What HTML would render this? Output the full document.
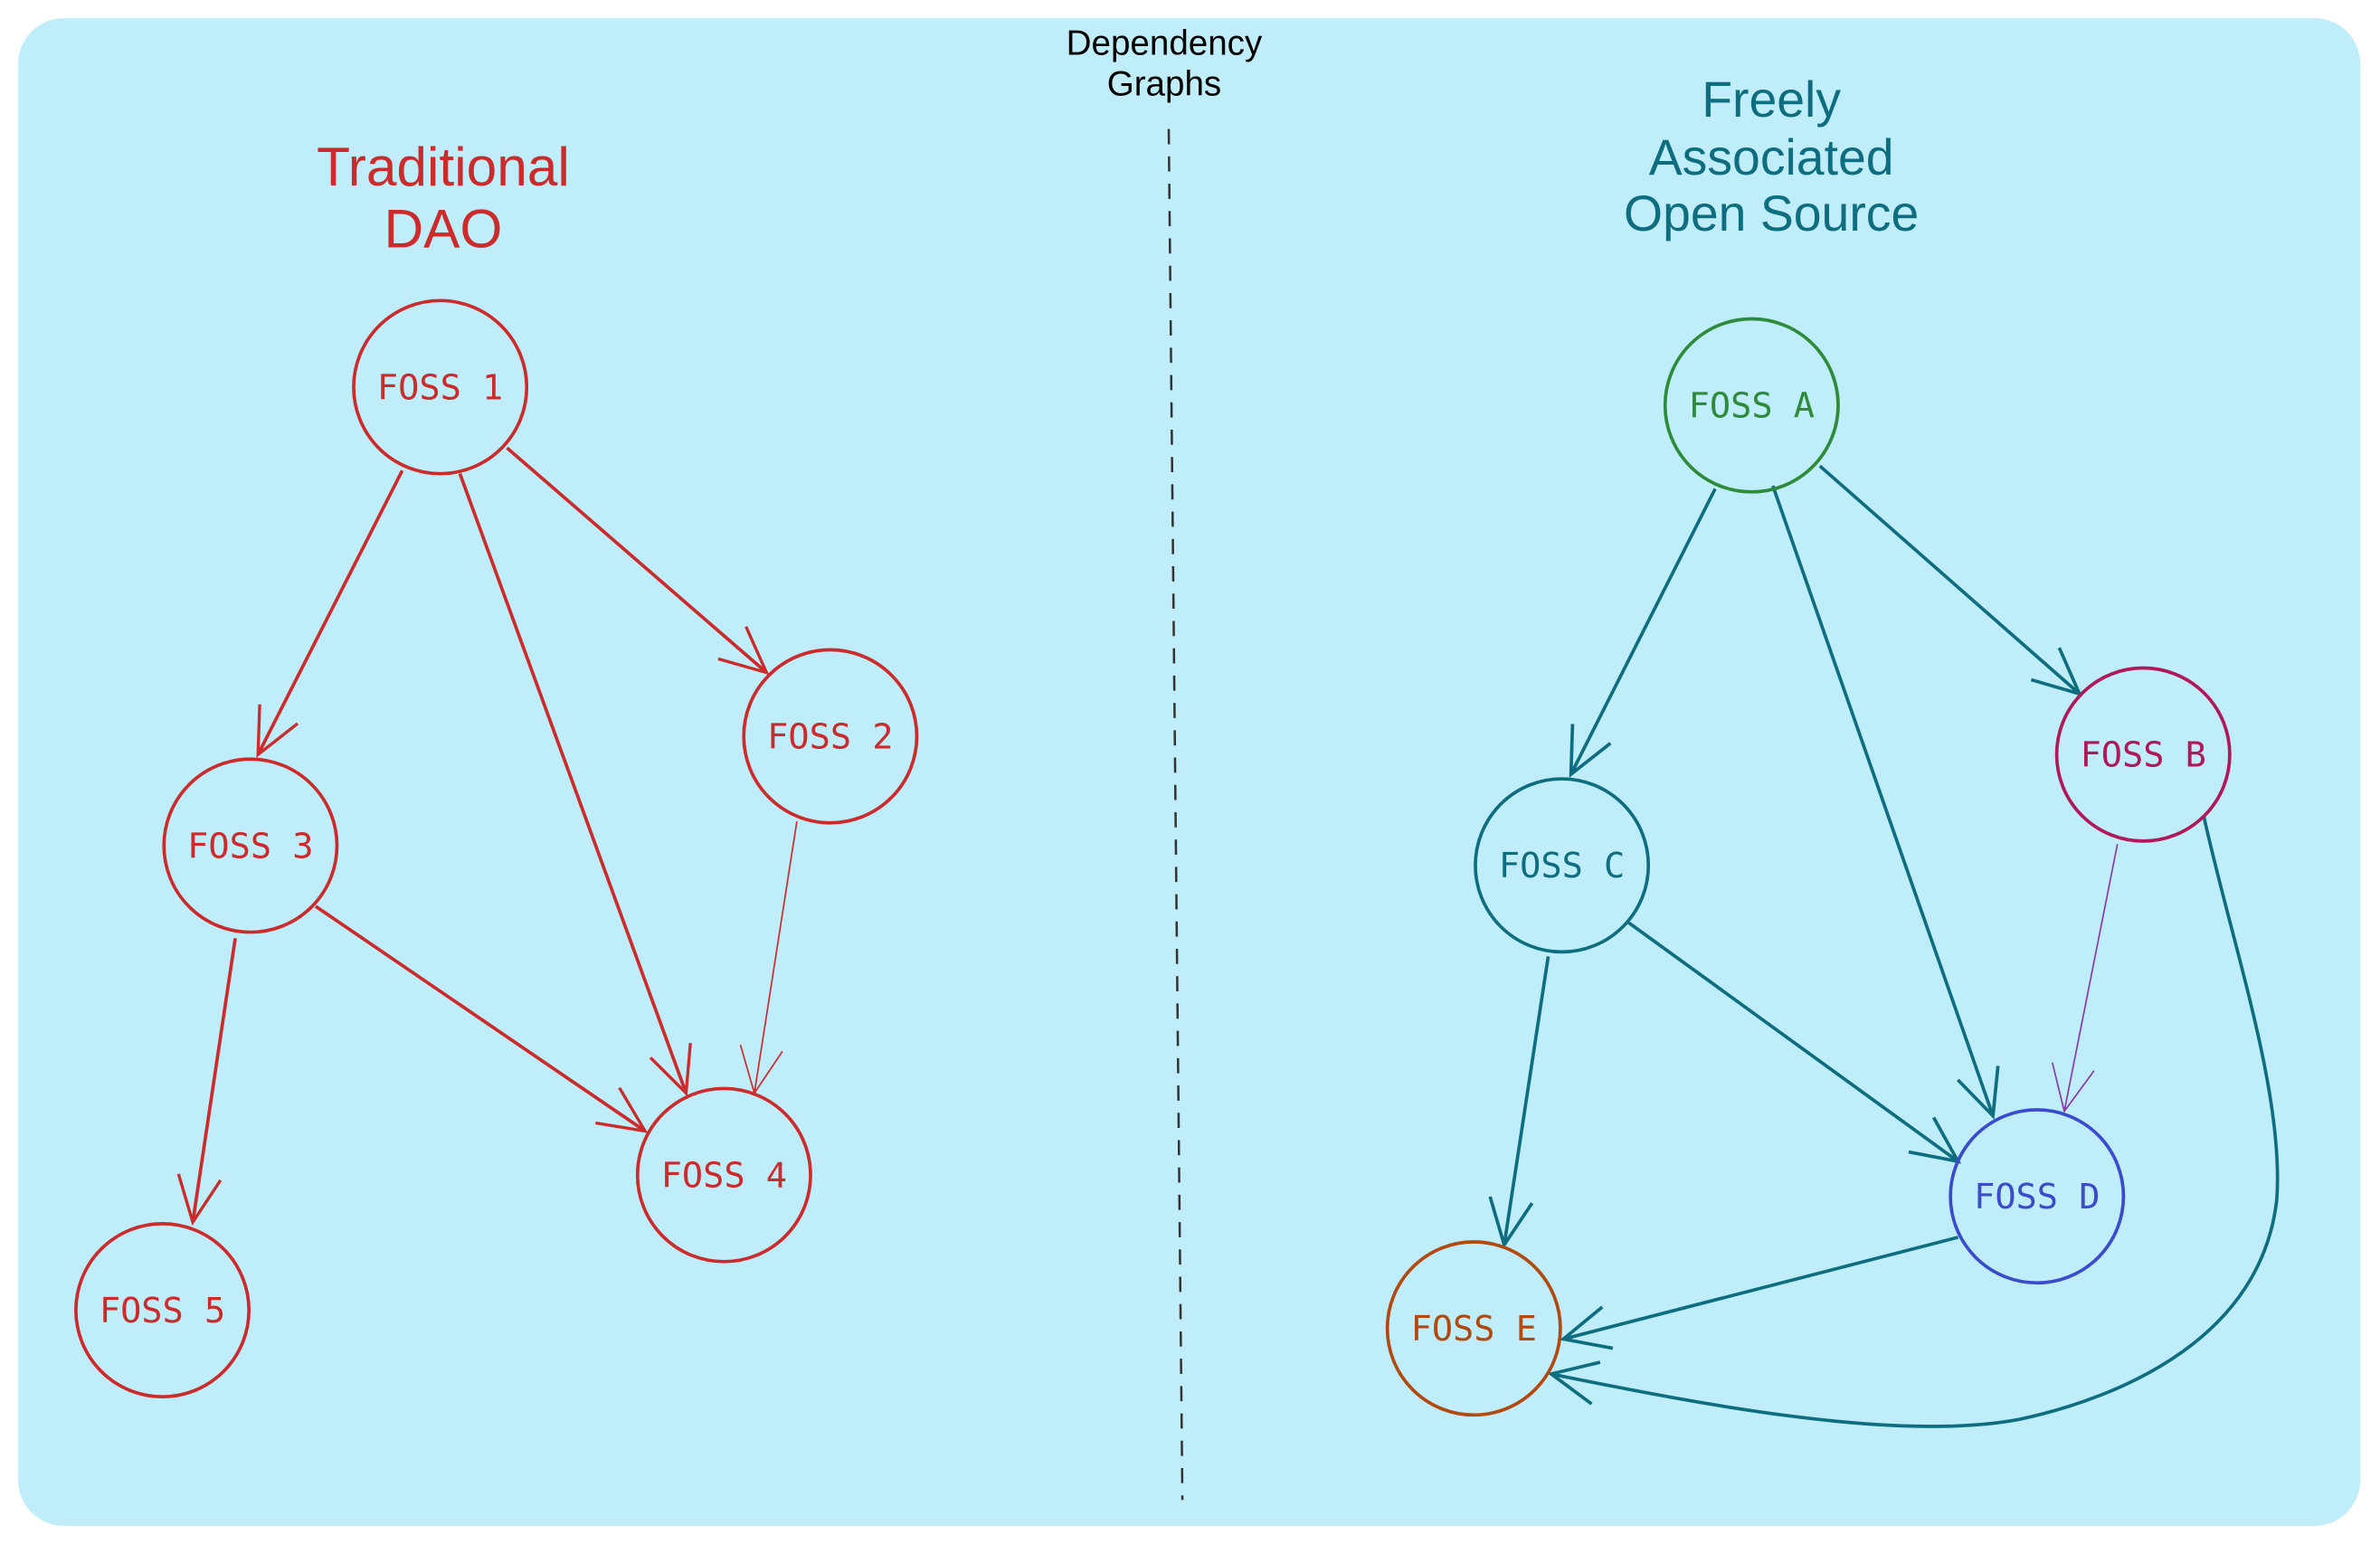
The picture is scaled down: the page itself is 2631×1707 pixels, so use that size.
<!DOCTYPE html>
<html><head><meta charset="utf-8"><style>html,body{margin:0;padding:0;background:#fff}svg{display:block}</style></head>
<body>
<svg width="2631" height="1707" viewBox="0 0 1568 1017" preserveAspectRatio="none" xmlns="http://www.w3.org/2000/svg">
<defs>
<marker id="ar" markerUnits="userSpaceOnUse" markerWidth="50" markerHeight="50" refX="38" refY="25" orient="auto"><path d="M8,11 L38,25 L8,39" fill="none" stroke="#cc2b2b" stroke-width="2"/></marker>
<marker id="at" markerUnits="userSpaceOnUse" markerWidth="50" markerHeight="50" refX="38" refY="25" orient="auto"><path d="M8,11 L38,25 L8,39" fill="none" stroke="#0e6d7e" stroke-width="2.2"/></marker>
<marker id="ap" markerUnits="userSpaceOnUse" markerWidth="50" markerHeight="50" refX="38" refY="25" orient="auto"><path d="M8,11 L38,25 L8,39" fill="none" stroke="#8a3aa8" stroke-width="1"/></marker>
<marker id="ar2" markerUnits="userSpaceOnUse" markerWidth="50" markerHeight="50" refX="38" refY="25" orient="auto"><path d="M8,11 L38,25 L8,39" fill="none" stroke="#cc2b2b" stroke-width="1"/></marker>
</defs>
<rect x="12" y="12" width="1543" height="993" rx="30" fill="#bfedfa"/>
<line x1="770" y1="85" x2="779" y2="988" stroke="#333" stroke-width="1.5" stroke-dasharray="10,8"/>
<g font-family="Liberation Sans, sans-serif" text-anchor="middle">
<text x="767" y="36" font-size="23" fill="#000">Dependency</text>
<text x="767" y="63" font-size="23" fill="#000">Graphs</text>
<text x="292" y="122" font-size="36" fill="#cc2b2b">Traditional</text>
<text x="292" y="163" font-size="36" fill="#cc2b2b">DAO</text>
<text x="1167" y="77" font-size="33" fill="#0e6d7e">Freely</text>
<text x="1167" y="115" font-size="33" fill="#0e6d7e">Associated</text>
<text x="1167" y="152" font-size="33" fill="#0e6d7e">Open Source</text>
</g>
<g fill="none" stroke-width="2.2">
<line x1="265" y1="310" x2="170" y2="497" stroke="#cc2b2b" marker-end="url(#ar)"/>
<line x1="303" y1="312" x2="452" y2="720" stroke="#cc2b2b" marker-end="url(#ar)"/>
<line x1="334" y1="295" x2="505" y2="443" stroke="#cc2b2b" marker-end="url(#ar)"/>
<line x1="525" y1="541" x2="497" y2="720" stroke="#cc2b2b" stroke-width="1" marker-end="url(#ar2)"/>
<line x1="208" y1="597" x2="425" y2="745" stroke="#cc2b2b" marker-end="url(#ar)"/>
<line x1="155" y1="618" x2="127" y2="805" stroke="#cc2b2b" marker-end="url(#ar)"/>
<line x1="1130" y1="322" x2="1035" y2="510" stroke="#0e6d7e" marker-end="url(#at)"/>
<line x1="1168" y1="320" x2="1313" y2="735" stroke="#0e6d7e" marker-end="url(#at)"/>
<line x1="1199" y1="307" x2="1370" y2="457" stroke="#0e6d7e" marker-end="url(#at)"/>
<line x1="1395" y1="556" x2="1360" y2="732" stroke="#8a3aa8" stroke-width="1" marker-end="url(#ap)"/>
<path d="M1452,538 C1470,620 1505,720 1500,790 C1490,880 1400,920 1330,935 C1250,950 1120,925 1022,905" stroke="#0e6d7e" marker-end="url(#at)"/>
<line x1="1020" y1="630" x2="991" y2="820" stroke="#0e6d7e" marker-end="url(#at)"/>
<line x1="1072" y1="607" x2="1290" y2="765" stroke="#0e6d7e" marker-end="url(#at)"/>
<line x1="1290" y1="815" x2="1030" y2="882" stroke="#0e6d7e" marker-end="url(#at)"/>
</g>
<g fill="none" stroke-width="2.2">
<circle cx="290" cy="255" r="57" stroke="#cc2b2b"/>
<circle cx="547" cy="485" r="57" stroke="#cc2b2b"/>
<circle cx="165" cy="557" r="57" stroke="#cc2b2b"/>
<circle cx="477" cy="774" r="57" stroke="#cc2b2b"/>
<circle cx="107" cy="863" r="57" stroke="#cc2b2b"/>
<circle cx="1154" cy="267" r="57" stroke="#2e8b3a"/>
<circle cx="1412" cy="497" r="57" stroke="#b0185a"/>
<circle cx="1029" cy="570" r="57" stroke="#0e6d7e"/>
<circle cx="1342" cy="788" r="57" stroke="#3a4ccc"/>
<circle cx="971" cy="875" r="57" stroke="#b04a10"/>
</g>
<g font-family="DejaVu Sans Mono, Liberation Mono, monospace" font-size="23" text-anchor="middle">
<text x="290" y="263" fill="#cc2b2b">FOSS 1</text>
<text x="547" y="493" fill="#cc2b2b">FOSS 2</text>
<text x="165" y="565" fill="#cc2b2b">FOSS 3</text>
<text x="477" y="782" fill="#cc2b2b">FOSS 4</text>
<text x="107" y="871" fill="#cc2b2b">FOSS 5</text>
<text x="1154" y="275" fill="#2e8b3a">FOSS A</text>
<text x="1412" y="505" fill="#b0185a">FOSS B</text>
<text x="1029" y="578" fill="#0e6d7e">FOSS C</text>
<text x="1342" y="796" fill="#3a4ccc">FOSS D</text>
<text x="971" y="883" fill="#b04a10">FOSS E</text>
</g>
</svg>
</body></html>
